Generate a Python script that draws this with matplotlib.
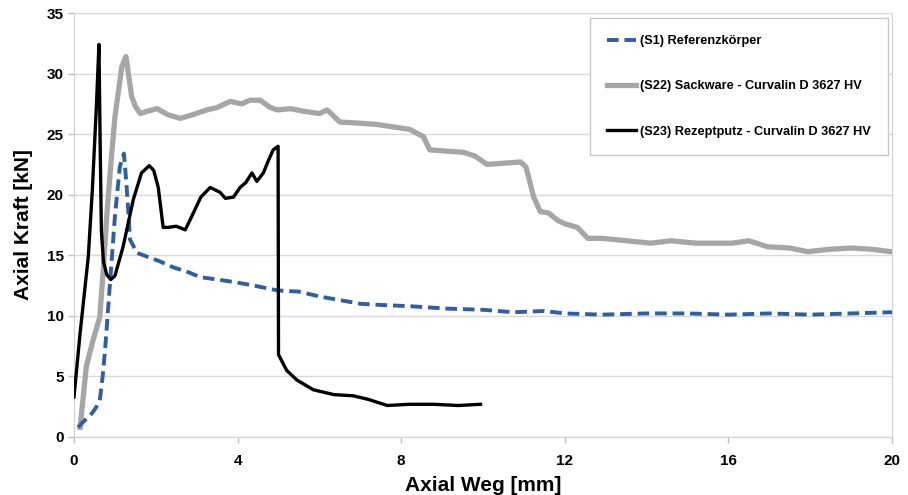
import matplotlib
matplotlib.use("Agg")
import matplotlib.pyplot as plt

plt.rcParams['font.family'] = ['Liberation Sans', 'DejaVu Sans']
plt.rcParams['font.weight'] = 'bold'

# (S1) Referenzkörper
s1_x = [0.1, 0.3, 0.45, 0.55, 0.63, 0.7, 0.76, 0.88, 1.0, 1.12, 1.22, 1.28, 1.33, 1.37, 1.54, 1.86,
        2.1, 2.43, 2.8, 3.08, 3.5, 3.9, 4.4, 4.97, 5.5, 6.0, 6.5, 7.0, 7.5, 8.2, 9.1, 10.0, 10.75,
        11.5, 12.0, 12.9, 14.0, 15.0, 16.0, 17.0, 18.0, 19.0, 20.0]
s1_y = [0.8, 1.5, 2.0, 2.5, 3.0, 5.0, 7.2, 12.7, 18.2, 22.3, 23.4, 21.0, 18.5, 16.3, 15.2, 14.8,
        14.5, 14.0, 13.6, 13.2, 13.0, 12.8, 12.5, 12.1, 12.0, 11.6, 11.3, 11.0, 10.9, 10.8, 10.6, 10.5, 10.3,
        10.4, 10.2, 10.1, 10.2, 10.2, 10.1, 10.2, 10.1, 10.2, 10.3]

# (S22) Sackware - Curvalin D 3627 HV
s22_x = [0.15, 0.3, 0.45, 0.63, 0.72, 0.8, 0.9, 1.0, 1.17, 1.27, 1.33, 1.41, 1.5, 1.62, 1.8, 2.03,
         2.3, 2.6, 2.9, 3.25, 3.5, 3.82, 4.1, 4.3, 4.55, 4.8, 4.97, 5.3, 5.6, 6.0, 6.19, 6.5, 7.0,
         7.4, 7.8, 8.2, 8.54, 8.7, 9.1, 9.52, 9.8, 10.1, 10.5, 10.92, 11.05, 11.24, 11.4, 11.6,
         11.82, 12.0, 12.31, 12.56, 12.9, 13.5, 14.1, 14.6, 15.2, 16.1, 16.5, 16.96, 17.5, 17.94,
         18.5, 19.0, 19.5, 19.97]
s22_y = [0.8, 5.8, 7.8, 9.9, 14.0, 18.2, 22.5, 26.4, 30.6, 31.4, 30.0, 28.1, 27.3, 26.7, 26.9, 27.1,
         26.6, 26.3, 26.6, 27.0, 27.2, 27.7, 27.5, 27.8, 27.8, 27.2, 27.0, 27.1, 26.9, 26.7, 27.0, 26.0, 25.9,
         25.8, 25.6, 25.4, 24.8, 23.7, 23.6, 23.5, 23.2, 22.5, 22.6, 22.7, 22.3, 19.8, 18.6, 18.5,
         17.9, 17.6, 17.3, 16.4, 16.4, 16.2, 16.0, 16.2, 16.0, 16.0, 16.2, 15.7, 15.6, 15.3,
         15.5, 15.6, 15.5, 15.3]

# (S23) Rezeptputz - Curvalin D 3627 HV
s23_x = [0.0, 0.15, 0.35, 0.45, 0.55, 0.61, 0.64, 0.67, 0.72, 0.8, 0.9, 1.0, 1.2, 1.45, 1.65, 1.84,
         1.95, 2.06, 2.18, 2.3, 2.5, 2.72, 2.92, 3.1, 3.33, 3.45, 3.57, 3.7, 3.9, 4.06, 4.2, 4.35,
         4.47, 4.63, 4.75, 4.87, 4.99, 5.0, 5.2, 5.45, 5.85, 6.35, 6.83, 7.2, 7.66, 8.2, 8.8, 9.4, 9.94]
s23_y = [3.3, 8.6, 14.9, 20.5, 27.5, 32.4, 24.0, 17.0, 14.5, 13.4, 13.0, 13.3, 15.7, 19.6, 21.8, 22.4,
         22.0, 20.6, 17.3, 17.3, 17.4, 17.1, 18.5, 19.8, 20.6, 20.4, 20.2, 19.7, 19.8, 20.6, 21.0, 21.8,
         21.1, 21.8, 22.8, 23.7, 24.0, 6.8, 5.5, 4.7, 3.9, 3.5, 3.4, 3.1, 2.6, 2.7, 2.7, 2.6, 2.7]

labels = ["(S1) Referenzkörper",
          "(S22) Sackware - Curvalin D 3627 HV",
          "(S23) Rezeptputz - Curvalin D 3627 HV"]
x_ticks = [0, 4, 8, 12, 16, 20]
y_ticks = [0, 5, 10, 15, 20, 25, 30, 35]

fig = plt.figure(figsize=(9.08, 4.95), dpi=100)
ax = fig.add_axes([74/908, 1-437/495, (892-74)/908, (437-13)/495])

ax.plot(s1_x, s1_y, color='#2f5f9e', lw=2.8, ls=(0, (3, 1.5)), label=labels[0], zorder=3)
ax.plot(s22_x, s22_y, color='#a6a6a6', lw=3.8, label=labels[1], zorder=2)
ax.plot(s23_x, s23_y, color='black', lw=2.4, label=labels[2], zorder=4)

ax.set_xlim(0, 20)
ax.set_ylim(0, 35)
ax.set_xticks(x_ticks)
ax.set_yticks(y_ticks)
ax.tick_params(axis='both', labelsize=11, color='#bfbfbf', length=4, width=1)
ax.tick_params(axis='x', pad=8)
for lab in ax.get_xticklabels() + ax.get_yticklabels():
    lab.set_fontweight('bold')
ax.yaxis.grid(True, color='#d9d9d9', lw=1)
ax.set_axisbelow(True)
for s in ax.spines.values():
    s.set_color('#d0d0d0')
ax.spines['top'].set_visible(False)

ax.set_xlabel("Axial Weg [mm]", fontsize=15, fontweight='bold', labelpad=6)
ax.set_ylabel("Axial Kraft [kN]", fontsize=15, fontweight='bold', labelpad=10)

leg = ax.legend(loc='upper right', bbox_to_anchor=((888-74)/818, (437-18)/424),
                borderaxespad=0, prop={'weight': 'bold', 'size': 9.2},
                handlelength=2.3, handletextpad=0.3, labelspacing=2.6,
                borderpad=1.35, fancybox=False, framealpha=1, edgecolor='#c8c8c8')
leg.get_frame().set_linewidth(1)

fig.savefig("out.png", dpi=100)
